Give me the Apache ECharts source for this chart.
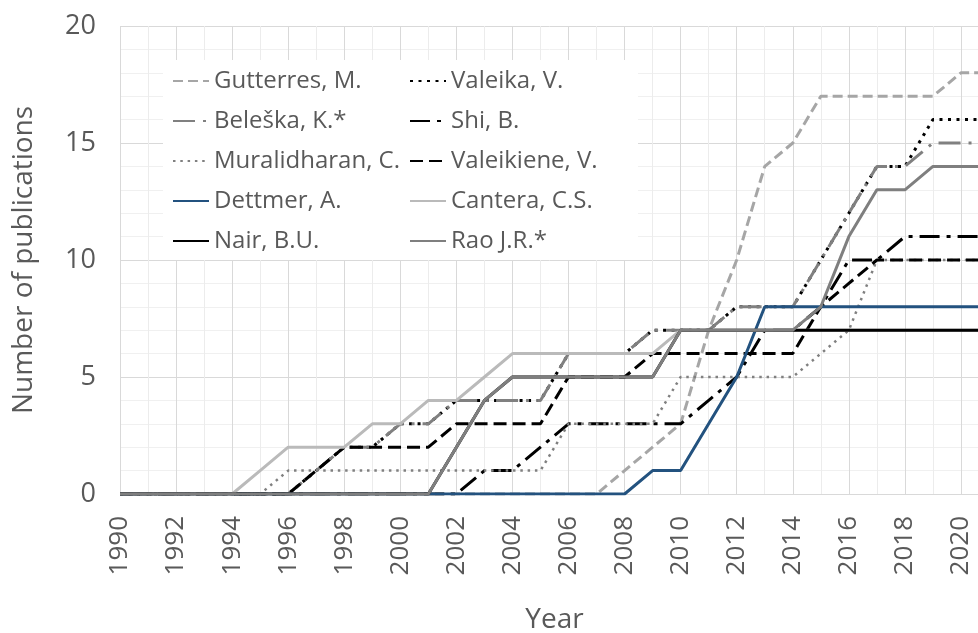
<!DOCTYPE html>
<html>
<head>
    <meta charset="utf-8">
    <script src="https://cdn.jsdelivr.net/npm/echarts@6/dist/echarts.min.js"></script>
</head>
<body style="margin:0">
    <div id="main" style="width: 978px;height:633px;"></div>
	<script type="text/javascript">
        // cumulative publications per author, 1990 - 2021
        var years = [1990, 1991, 1992, 1993, 1994, 1995, 1996, 1997, 1998, 1999, 2000, 2001, 2002, 2003, 2004, 2005,
                     2006, 2007, 2008, 2009, 2010, 2011, 2012, 2013, 2014, 2015, 2016, 2017, 2018, 2019, 2020, 2021];

        var gutterres    = [0,0,0,0,0,0,0,0,0,0,0,0,0,0,0,0, 0,0,1,2,3,7,10,14,15,17,17,17,17,17,18,18];
        var valeika      = [0,0,0,0,0,0,0,1,2,2,3,3,4,4,4,4, 6,6,6,7,7,7,8,8,8,10,12,14,14,16,16,16];
        var beleska      = [0,0,0,0,0,0,0,1,2,2,3,3,4,4,4,4, 6,6,6,7,7,7,8,8,8,10,12,14,14,15,15,15];
        var shi          = [0,0,0,0,0,0,0,0,0,0,0,0,0,1,1,2, 3,3,3,3,3,4,5,7,7,8,10,10,11,11,11,11];
        var muralidharan = [0,0,0,0,0,0,1,1,1,1,1,1,1,1,1,1, 3,3,3,3,5,5,5,5,5,6,7,10,10,10,10,10];
        var valeikiene   = [0,0,0,0,0,0,0,1,2,2,2,2,3,3,3,3, 5,5,5,6,6,6,6,6,6,8,9,10,10,10,10,10];
        var dettmer      = [0,0,0,0,0,0,0,0,0,0,0,0,0,0,0,0, 0,0,0,1,1,3,5,8,8,8,8,8,8,8,8,8];
        var cantera      = [0,0,0,0,0,1,2,2,2,3,3,4,4,5,6,6, 6,6,6,6,7,7,7,7,7,7,7,7,7,7,7,7];
        var nair         = [0,0,0,0,0,0,0,0,0,0,0,0,2,4,5,5, 5,5,5,5,7,7,7,7,7,7,7,7,7,7,7,7];
        var rao          = [0,0,0,0,0,0,0,0,0,0,0,0,2,4,5,5, 5,5,5,5,7,7,7,7,7,8,11,13,13,14,14,14];

        var legendLeft  = ['Gutterres, M.', 'Beleška, K.*', 'Muralidharan, C.', 'Dettmer, A.', 'Nair, B.U.'];
        var legendRight = ['Valeika, V.', 'Shi, B.', 'Valeikiene, V.', 'Cantera, C.S.', 'Rao J.R.*'];

        var textColor = '#595959';
        var font = 'Open Sans';

        function pairs(vals) {
            return years.map(function (y, i) { return [y, vals[i]]; });
        }
        function line(name, vals, color, width, dash) {
            return {
                name: name,
                type: 'line',
                symbol: 'none',
                data: pairs(vals),
                lineStyle: { color: color, width: width, type: dash || 'solid', cap: 'butt' },
                itemStyle: { color: color },
                emphasis: { disabled: true }
            };
        }

        function legendCol(left, names) {
            return {
                orient: 'vertical',
                left: left,
                top: 68,
                padding: 0,
                itemWidth: 36,
                itemHeight: 14,
                itemGap: 14,
                data: names,
                itemStyle: { opacity: 0 },
                textStyle: { color: textColor, fontSize: 24, fontFamily: font, lineHeight: 26 },
                selectedMode: false
            };
        }

        var myChart = echarts.init(document.getElementById('main'));
        myChart.setOption({
            animation: false,
            grid: { left: 120, top: 26, bottom: 139, right: -11, outerBoundsMode: 'none', containLabel: false },
            graphic: [{
                type: 'rect', z: 1,
                shape: { x: 163, y: 60, width: 475, height: 200 },
                style: { fill: '#ffffff' }
            }],
            legend: [legendCol(172, legendLeft), legendCol(409, legendRight)],
            xAxis: {
                type: 'value',
                min: 1990, max: 2021, interval: 2,
                name: 'Year',
                nameLocation: 'middle',
                nameGap: 112,
                nameTextStyle: { color: textColor, fontSize: 28, fontFamily: font },
                axisLine: { show: false },
                axisTick: { show: false },
                axisLabel: {
                    rotate: 90, margin: 22, color: textColor, fontSize: 26, fontFamily: font,
                    showMaxLabel: false,
                    formatter: function (v) { return v % 2 === 0 ? String(v) : ''; }
                },
                splitLine: { show: true, lineStyle: { color: '#d9d9d9', width: 1 } },
                minorTick: { show: false, splitNumber: 2 },
                minorSplitLine: { show: true, lineStyle: { color: '#ececec', width: 1 } }
            },
            yAxis: {
                type: 'value',
                min: 0, max: 20, interval: 5,
                name: 'Number of publications',
                nameLocation: 'middle',
                nameGap: 82,
                nameTextStyle: { color: textColor, fontSize: 28, fontFamily: font },
                axisLine: { show: false },
                axisTick: { show: false },
                axisLabel: { margin: 24, color: textColor, fontSize: 27, fontFamily: font },
                splitLine: { show: true, lineStyle: { color: '#d9d9d9', width: 1 } },
                minorTick: { show: false, splitNumber: 5 },
                minorSplitLine: { show: true, lineStyle: { color: '#f0f0f0', width: 1 } }
            },
            series: [
                line('Gutterres, M.', gutterres, '#a6a6a6', 3, [10, 5]),
                line('Valeika, V.', valeika, '#000000', 3, [3, 5.5]),
                line('Beleška, K.*', beleska, '#808080', 3, [22, 8, 3, 8]),
                line('Shi, B.', shi, '#000000', 3, [20, 7, 4, 7]),
                line('Muralidharan, C.', muralidharan, '#808080', 2.5, [2.5, 4.8]),
                line('Valeikiene, V.', valeikiene, '#000000', 3, [13, 6]),
                line('Dettmer, A.', dettmer, '#23527f', 3),
                line('Cantera, C.S.', cantera, '#bababa', 3),
                line('Nair, B.U.', nair, '#000000', 3),
                line('Rao J.R.*', rao, '#7f7f7f', 3)
            ]
        });
    </script>
</body>
</html>
